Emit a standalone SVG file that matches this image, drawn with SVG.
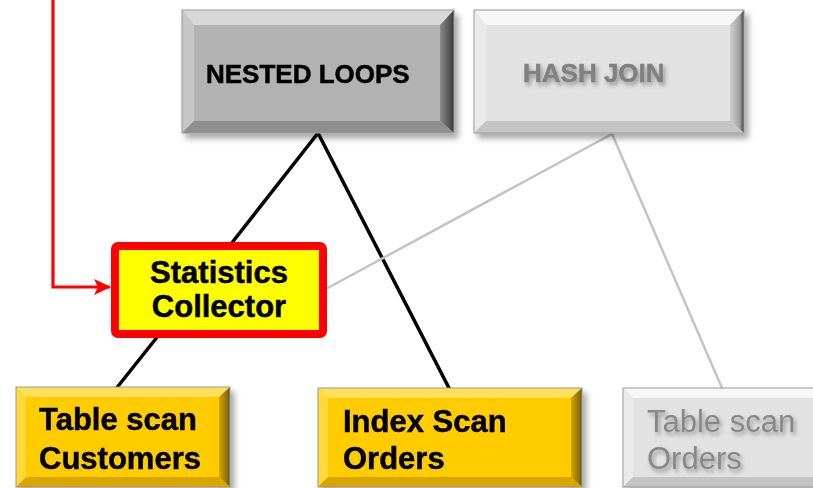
<svg xmlns="http://www.w3.org/2000/svg" width="813" height="488" viewBox="0 0 813 488">
<defs>
<filter id="sh" x="-10%" y="-10%" width="125%" height="130%">
<feDropShadow dx="4" dy="5" stdDeviation="3" flood-color="#000" flood-opacity="0.35"/>
</filter>
<filter id="tsh" x="-10%" y="-20%" width="125%" height="150%">
<feDropShadow dx="2" dy="3" stdDeviation="2" flood-color="#000" flood-opacity="0.35"/>
</filter>
<marker id="arr" markerWidth="17" markerHeight="16" refX="16" refY="8" orient="auto" markerUnits="userSpaceOnUse">
<path d="M0,0 L17,8 L0,16 L4,8 Z" fill="#ff0000"/>
</marker>
<linearGradient id="gR" x1="0" x2="1" y1="0" y2="0"><stop offset="0" stop-color="#8a8a8a"/><stop offset="1" stop-color="#3c3c3c"/></linearGradient>
<linearGradient id="gRl" x1="0" x2="1" y1="0" y2="0"><stop offset="0" stop-color="#cfcfcf"/><stop offset="0.7" stop-color="#a0a0a0"/><stop offset="1" stop-color="#404040"/></linearGradient>
<linearGradient id="gRy" x1="0" x2="1" y1="0" y2="0"><stop offset="0" stop-color="#d9a800"/><stop offset="1" stop-color="#6e5a10"/></linearGradient>
</defs>
<style>
.t{font-family:"Liberation Sans",Arial,sans-serif;font-weight:bold;stroke-width:0.5}
.dk .face{fill:#b2b2b2}.dk .tp{fill:#d8d8d8}.dk .lf{fill:#c6c6c6}.dk .rt{fill:url(#gR)}.dk .bt{fill:#8e8e8e}
.lt .face{fill:#e2e2e2}.lt .tp{fill:#f7f7f7}.lt .lf{fill:#eaeaea}.lt .rt{fill:url(#gRl)}.lt .bt{fill:#c4c4c4}
.yl .face{fill:#ffcc00}.yl .tp{fill:#ffe05a}.yl .lf{fill:#ffd83a}.yl .rt{fill:url(#gRy)}.yl .bt{fill:#d9a600}
.edge{fill:none;stroke:#9a9a9a;stroke-width:1}
.blk{stroke:#000;stroke-width:3.5;fill:none}
.gry{stroke:#c4c4c4;stroke-width:2.5;fill:none}
</style>

<g id="connectors">
<line class="blk" x1="318" y1="133" x2="231" y2="244"/>
<line class="blk" x1="318" y1="133" x2="450" y2="390"/>
<line class="blk" x1="158" y1="336" x2="115" y2="390"/>
<polyline class="gry" points="324,290 612,134 722,388"/>
<polyline points="53,0 53,287 110,287" fill="none" stroke="#ff0000" stroke-width="3.2" marker-end="url(#arr)"/>
</g>

<g id="nested-loops" class="dk" filter="url(#sh)">
<rect class="face" x="182" y="10" width="272" height="123"/>
<polygon class="tp" points="182,10 454,10 442,25 194,25"/>
<polygon class="lf" points="182,10 194,25 194,121 182,133"/>
<polygon class="rt" points="454,10 454,133 440,121 440,25"/>
<polygon class="bt" points="182,133 194,121 440,121 454,133"/>
<rect class="edge" x="182" y="10" width="272" height="123"/>
<text class="t" x="206" y="83" font-size="26" fill="#000" stroke="#000">NESTED LOOPS</text>
</g>

<g id="hash-join" class="lt" filter="url(#sh)">
<rect class="face" x="474" y="10" width="270" height="123"/>
<polygon class="tp" points="474,10 744,10 732,25 486,25"/>
<polygon class="lf" points="474,10 486,25 486,121 474,133"/>
<polygon class="rt" points="744,10 744,133 730,121 730,25"/>
<polygon class="bt" points="474,133 486,121 730,121 744,133"/>
<rect class="edge" x="474" y="10" width="270" height="123"/>
<text class="t" x="523" y="82" font-size="26" fill="#808080" stroke="#808080" filter="url(#tsh)">HASH JOIN</text>
</g>

<g id="statistics-collector">
<rect x="115" y="246" width="208" height="88" fill="#ffff00" stroke="#ff0000" stroke-width="8" rx="3"/>
<text class="t" x="219" y="283" font-size="31" text-anchor="middle" fill="#000" stroke="#000">Statistics</text>
<text class="t" x="219" y="317" font-size="31" text-anchor="middle" fill="#000" stroke="#000">Collector</text>
</g>

<g id="table-scan-customers" class="yl" filter="url(#sh)">
<rect class="face" x="16" y="387" width="214" height="100"/>
<polygon class="tp" points="16,387 230,387 219,397 26,397"/>
<polygon class="lf" points="16,387 26,397 26,477 16,487"/>
<polygon class="rt" points="230,387 230,487 219,477 219,397"/>
<polygon class="bt" points="16,487 26,477 219,477 230,487"/>
<rect class="edge" x="16" y="387" width="214" height="100"/>
<text class="t" x="39" y="430" font-size="31" fill="#000" stroke="#000">Table scan</text>
<text class="t" x="39" y="469" font-size="31" fill="#000" stroke="#000">Customers</text>
</g>

<g id="index-scan-orders" class="yl" filter="url(#sh)">
<rect class="face" x="318" y="388" width="264" height="99"/>
<polygon class="tp" points="318,388 582,388 571,398 328,398"/>
<polygon class="lf" points="318,388 328,398 328,477 318,487"/>
<polygon class="rt" points="582,388 582,487 571,477 571,398"/>
<polygon class="bt" points="318,487 328,477 571,477 582,487"/>
<rect class="edge" x="318" y="388" width="264" height="99"/>
<text class="t" x="343" y="432" font-size="31" fill="#000" stroke="#000">Index Scan</text>
<text class="t" x="343" y="469" font-size="31" fill="#000" stroke="#000">Orders</text>
</g>

<g id="table-scan-orders" class="lt" filter="url(#sh)">
<rect class="face" x="623" y="388" width="200" height="99"/>
<polygon class="tp" points="623,388 823,388 813,398 633,398"/>
<polygon class="lf" points="623,388 633,398 633,477 623,487"/>
<polygon class="bt" points="623,487 633,477 823,477 823,487"/>
<rect class="edge" x="623" y="388" width="200" height="99"/>
<text x="647" y="432" font-size="31" fill="#888" font-family="'Liberation Sans',Arial,sans-serif" filter="url(#tsh)">Table scan</text>
<text x="647" y="469" font-size="31" fill="#888" font-family="'Liberation Sans',Arial,sans-serif" filter="url(#tsh)">Orders</text>
</g>
</svg>
